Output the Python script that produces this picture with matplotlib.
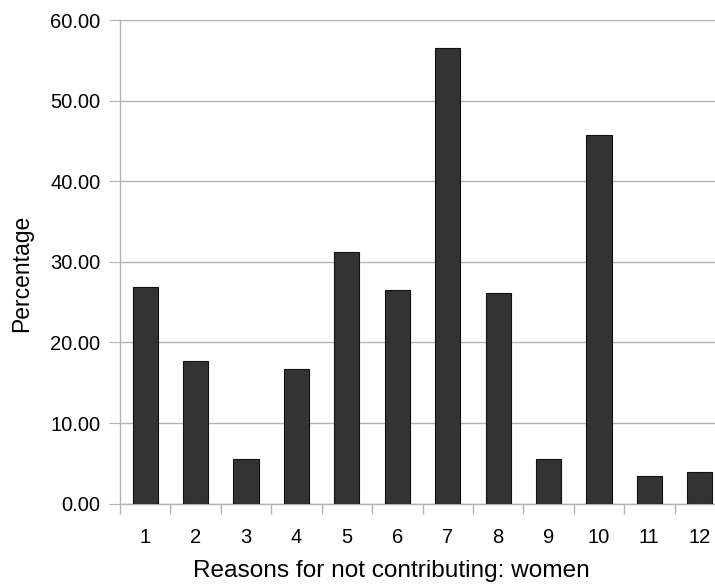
import matplotlib
matplotlib.use("Agg")
import matplotlib.pyplot as plt
from matplotlib.ticker import FixedLocator, FormatStrFormatter

categories = ["1", "2", "3", "4", "5", "6", "7", "8", "9", "10", "11", "12"]
values = [26.9, 17.7, 5.55, 16.7, 31.2, 26.5, 56.5, 26.1, 5.6, 45.7, 3.4, 3.9]
yticks = [0, 10, 20, 30, 40, 50, 60]

plt.rcParams['font.family'] = ['Liberation Sans', 'DejaVu Sans']

fig = plt.figure(figsize=(7.15, 5.85), dpi=100)
ax = fig.add_axes([120/715, 81.3/585, 605/715, 483.7/585])

pos = list(range(1, len(categories) + 1))
ax.bar(pos, values, width=0.5, color="#333333", edgecolor="#111111", linewidth=0.8, zorder=3)

grid_c = "#b3b3b3"
ax.set_ylim(0, 60)
ax.set_xlim(0.5, len(categories) + 0.5)
ax.set_yticks(yticks)
ax.yaxis.set_major_formatter(FormatStrFormatter("%.2f"))
ax.set_xticks(pos)
ax.set_xticklabels(categories)
ax.xaxis.set_minor_locator(FixedLocator([p + 0.5 for p in [0] + pos]))

ax.grid(axis="y", color=grid_c, linewidth=1.0, zorder=0)
for s in ["top", "right"]:
    ax.spines[s].set_visible(False)
for s in ["left", "bottom"]:
    ax.spines[s].set_color(grid_c)
    ax.spines[s].set_linewidth(1.0)

ax.tick_params(axis="y", length=8, color=grid_c, labelsize=14.5, pad=6, labelcolor="#000000")
ax.tick_params(axis="x", which="major", length=0, labelsize=14.5, pad=17.5)
ax.tick_params(axis="x", which="minor", length=7.5, color=grid_c, width=1.0)

ax.set_xlabel("Reasons for not contributing: women", fontsize=17.6)
ax.xaxis.set_label_coords((391 - 120) / 605, -(565 - 503.7 - 4.6) / 483.7)
ax.set_ylabel("Percentage", fontsize=16.5)
ax.yaxis.set_label_coords(-(120 - 33) / 605, (503.7 - 273.5) / 483.7)

fig.savefig("out.png", dpi=100)
